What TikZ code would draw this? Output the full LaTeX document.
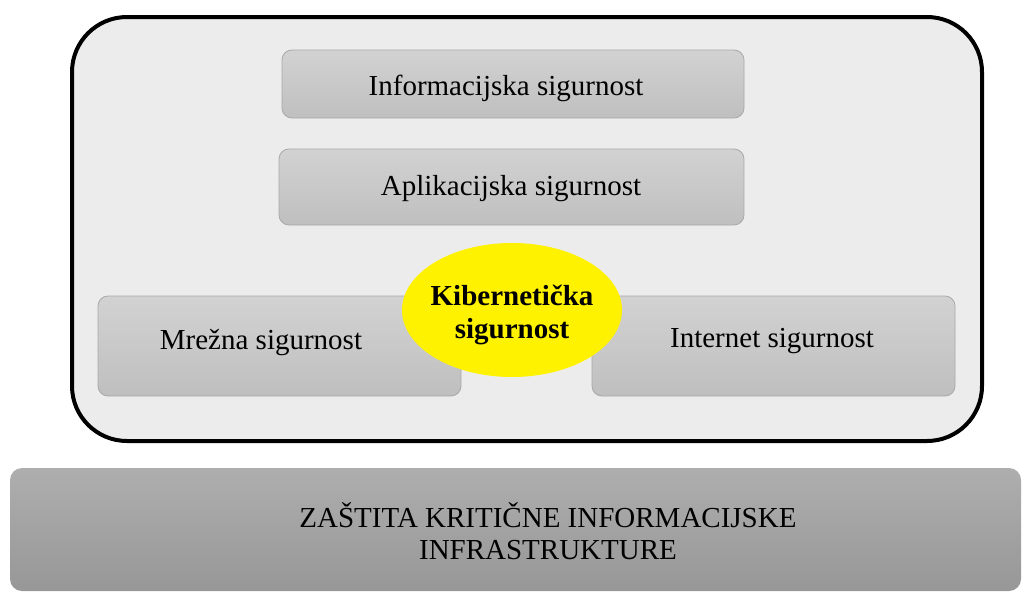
\documentclass[tikz,border=0pt]{standalone}
\usepackage{fontspec}
\setmainfont{Liberation Serif}
\usetikzlibrary{shapes.geometric}
\definecolor{outerfill}{HTML}{ECECEC}
\definecolor{boxtop}{HTML}{D2D2D2}
\definecolor{boxbot}{HTML}{BFBFBF}
\definecolor{boxline}{HTML}{A8A8A8}
\definecolor{bartop}{HTML}{AEAEAE}
\definecolor{barbot}{HTML}{979797}
\tikzset{
  layerbox/.style={rounded corners=10pt, draw=boxline, line width=0.8pt, top color=boxtop, bottom color=boxbot},
  lbl/.style={font=\fontsize{29}{33}\selectfont, text=black},
}
\begin{document}
\begin{tikzpicture}[x=1pt,y=-1pt]
\useasboundingbox (0,0) rectangle (1033,597);
\draw[line width=4pt, rounded corners=55pt, fill=outerfill] (72,17) rectangle (982,441);
\path[layerbox] (282,50) rectangle (744,118);
\node[lbl] (info) at (506,88) {Informacijska sigurnost};
\path[layerbox] (279,149) rectangle (744,225);
\node[lbl] (apl) at (511,189) {Aplikacijska sigurnost};
\path[layerbox] (98,296) rectangle (461,396);
\node[lbl] (mrez) at (261,343) {Mrežna sigurnost};
\path[layerbox] (592,296) rectangle (955,396);
\node[lbl] (inet) at (772,341) {Internet sigurnost};
\node[ellipse, fill=yellow, minimum width=220pt, minimum height=134pt, inner sep=0pt] (kib) at (512,310) {};
\node[align=center, font=\bfseries\fontsize{29}{33}\selectfont] (kibt) at ([yshift=-5pt]kib.center) {Kibernetička\\sigurnost};
\path[rounded corners=12pt, top color=bartop, bottom color=barbot] (10,468) rectangle (1021,591);
\node[lbl, align=center, font=\fontsize{29}{32}\selectfont] (zast) at (548,531) {ZAŠTITA KRITIČNE INFORMACIJSKE\\INFRASTRUKTURE};
\end{tikzpicture}
\end{document}
